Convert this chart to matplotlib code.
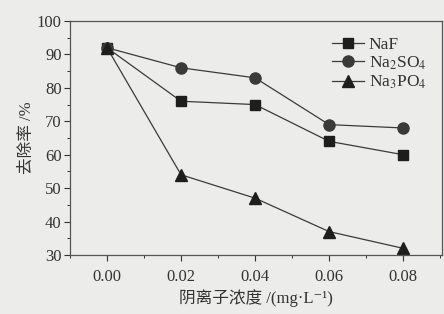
import matplotlib
matplotlib.use("Agg")
import matplotlib.pyplot as plt
from matplotlib.ticker import MultipleLocator

plt.rcParams['font.family'] = ['Liberation Serif', 'Noto Sans CJK SC', 'DejaVu Serif']
plt.rcParams['mathtext.fontset'] = 'stix'

conc = [0.00, 0.02, 0.04, 0.06, 0.08]
naf = [92, 76, 75, 64, 60]
na2so4 = [92, 86, 83, 69, 68]
na3po4 = [92, 54, 47, 37, 32]
tick_labels = ["0.00", "0.02", "0.04", "0.06", "0.08"]

fig = plt.figure(figsize=(4.44, 3.14), dpi=100)
fig.patch.set_facecolor('#ececea')
ax = fig.add_axes([70/444, 1 - 255/314, 372/444, 234/314])
ax.set_facecolor('#ececea')

lc = '#3a3a3a'
mc = '#1e1e1e'
ax.plot(conc, naf, marker='s', ms=7.5, color=lc, mfc=mc, mec=mc, lw=0.9, label='NaF')
ax.plot(conc, na2so4, marker='o', ms=8, color=lc, mfc='#3a3a3a', mec='#3a3a3a', lw=0.9,
        label=r'Na$_\mathrm{2}$SO$_\mathrm{4}$')
ax.plot(conc, na3po4, marker='^', ms=9, color=lc, mfc=mc, mec=mc, lw=0.9,
        label=r'Na$_\mathrm{3}$PO$_\mathrm{4}$')

ax.set_xlim(-0.01, 0.0905)
ax.set_ylim(30, 100)
ax.set_xticks(conc)
ax.set_xticklabels(tick_labels)
ax.xaxis.set_minor_locator(MultipleLocator(0.01))
ax.yaxis.set_minor_locator(MultipleLocator(5))
ax.set_yticks(range(30, 101, 10))
ax.tick_params(axis='both', which='major', direction='out', length=4, width=0.8,
               labelsize=12, colors='#333333', pad=2)
ax.tick_params(axis='both', which='minor', direction='out', length=2.5, width=0.7, colors='#333333')
ax.tick_params(axis='x', pad=6)
for s in ax.spines.values():
    s.set_color('#555555')
    s.set_linewidth(0.9)

ax.set_xlabel('阴离子浓度 /(mg·L⁻¹)', fontsize=12, color='#333333',
              family=['Liberation Serif', 'Noto Sans CJK SC', 'DejaVu Serif'], labelpad=3)
ax.set_ylabel('去除率 /%', fontsize=12, color='#333333',
              family=['Liberation Serif', 'Noto Sans CJK SC'], labelpad=1)

leg = ax.legend(loc='upper right', frameon=False, fontsize=12.5, handlelength=1.8,
                handletextpad=0.3, labelspacing=0.1, borderaxespad=0.5)
for t in leg.get_texts():
    t.set_color('#333333')

fig.savefig('out.png', dpi=100, facecolor=fig.get_facecolor())
